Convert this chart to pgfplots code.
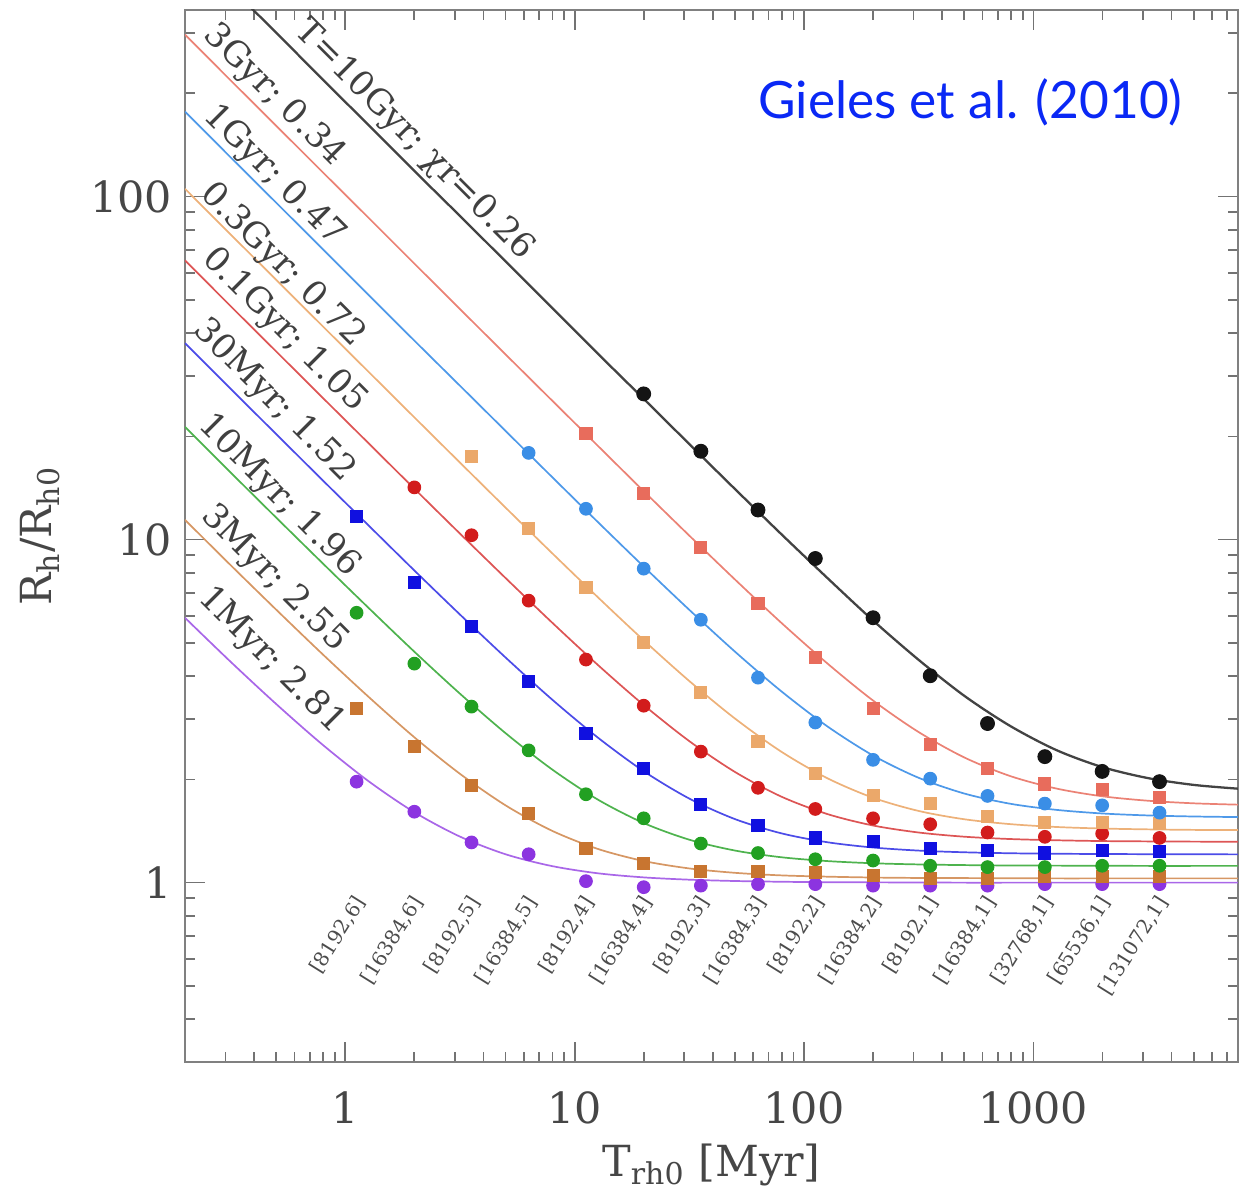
\documentclass[border=0pt]{standalone}
\usepackage{fontspec}
\setmainfont{DejaVu Serif}
\newfontfamily\gillfont{Lato}
\usepackage{pgfplots}
\usepackage{pgfplotstable}
\pgfplotsset{compat=1.18}

\definecolor{cK}{RGB}{20,20,20}
\definecolor{cSal}{RGB}{232,108,92}
\definecolor{cLB}{RGB}{58,142,230}
\definecolor{cTan}{RGB}{235,168,106}
\definecolor{cRed}{RGB}{210,28,28}
\definecolor{cBlu}{RGB}{16,16,224}
\definecolor{cGrn}{RGB}{34,160,34}
\definecolor{cBrn}{RGB}{200,117,48}
\definecolor{cPur}{RGB}{140,52,224}
\definecolor{cTxt}{RGB}{70,70,70}
\definecolor{cGie}{RGB}{10,40,245}

% model curves
\pgfplotstableread{
x c1 c2 c3 c4 c5 c6 c7 c8 c9
0.2 554 296.8 177.0 105.4 65.2 37.40 21.32 11.42 5.917
0.316 407 218.3 130.2 77.6 47.96 27.53 15.70 8.429 4.406
0.501 300 160.6 95.8 57.1 35.30 20.27 11.57 6.238 3.311
0.794 220 118.1 70.5 42.0 25.98 14.93 8.551 4.642 2.528
1.259 162 86.9 51.8 30.91 19.14 11.02 6.336 3.487 1.979
1.995 119 63.9 38.1 22.76 14.10 8.144 4.720 2.657 1.606
3.162 87.8 47.0 28.09 16.77 10.41 6.047 3.555 2.076 1.362
5.012 64.6 34.6 20.70 12.37 7.713 4.524 2.723 1.678 1.209
7.943 47.5 25.5 15.26 9.155 5.744 3.426 2.142 1.418 1.118
12.59 34.9 18.80 11.27 6.803 4.318 2.651 1.748 1.2545 1.065
19.95 25.77 13.87 8.36 5.096 3.300 2.115 1.493 1.1566 1.036
31.62 18.99 10.27 6.24 3.870 2.585 1.758 1.334 1.100 1.020
50.12 14.02 7.64 4.707 3.005 2.100 1.531 1.240 1.068 1.011
79.43 10.39 5.73 3.618 2.411 1.783 1.393 1.186 1.050 1.006
125.9 7.75 4.365 2.860 2.018 1.586 1.312 1.156 1.041 1.003
199.5 5.82 3.40 2.350 1.769 1.468 1.266 1.139 1.035 1.002
316.2 4.46 2.747 2.021 1.618 1.400 1.240 1.130 1.032 1.001
501.2 3.50 2.315 1.818 1.530 1.361 1.226 1.125 1.031 1.0
794.3 2.86 2.044 1.698 1.481 1.340 1.218 1.122 1.030 1.0
1259 2.435 1.881 1.630 1.453 1.329 1.214 1.121 1.029 1.0
1995 2.173 1.786 1.591 1.438 1.322 1.212 1.120 1.029 1.0
3162 2.017 1.733 1.570 1.430 1.319 1.2105 1.119 1.029 1.0
5012 1.927 1.703 1.559 1.425 1.317 1.2095 1.119 1.029 1.0
7800 1.879 1.688 1.553 1.423 1.316 1.209 1.119 1.029 1.0
}\curves

% N-body points
\pgfplotstableread{
x m1 m2 m3 m4 m5 m6 m7 m8 m9
1.12 nan nan nan nan nan 11.7 6.12 3.22 1.97
2.0 nan nan nan nan 14.2 7.49 4.35 2.49 1.61
3.55 nan nan nan 17.5 10.3 5.58 3.26 1.92 1.31
6.3 nan nan 17.9 10.8 6.64 3.85 2.43 1.59 1.21
11.2 nan 20.4 12.3 7.25 4.47 2.72 1.81 1.26 1.01
20 26.6 13.6 8.23 5.01 3.28 2.15 1.54 1.14 0.97
35.5 18.1 9.48 5.84 3.58 2.41 1.69 1.30 1.08 0.98
63 12.2 6.51 3.96 2.58 1.89 1.47 1.22 1.08 0.99
112 8.81 4.53 2.93 2.08 1.64 1.35 1.17 1.07 0.99
200 5.92 3.22 2.28 1.79 1.54 1.32 1.16 1.05 0.98
355 4.01 2.53 2.01 1.70 1.48 1.26 1.12 1.03 0.98
631 2.91 2.15 1.79 1.56 1.40 1.24 1.11 1.03 0.98
1122 2.33 1.94 1.70 1.50 1.36 1.22 1.11 1.04 0.99
1995 2.11 1.87 1.68 1.50 1.39 1.24 1.12 1.04 0.99
3548 1.97 1.77 1.60 1.49 1.35 1.23 1.12 1.04 0.99
}\points

\begin{document}
\begin{tikzpicture}
\begin{axis}[
  name=ax,
  xmode=log, ymode=log,
  scale only axis, width=368.55pt, height=368.2pt,
  xmin=0.2, xmax=7800, ymin=0.3, ymax=350,
  axis line style={black!50, line width=0.8pt},
  tick style={black!55, line width=0.6pt},
  major tick length=7pt, minor tick length=3.5pt,
  tick align=inside,
  xtick={1,10,100,1000}, xticklabels={1,10,100,1000},
  ytick={1,10,100}, yticklabels={1,10,100},
  minor xtick={0.2,0.3,0.4,0.5,0.6,0.7,0.8,0.9,2,3,4,5,6,7,8,9,20,30,40,50,60,70,80,90,200,300,400,500,600,700,800,900,2000,3000,4000,5000,6000,7000},
  minor ytick={0.3,0.4,0.5,0.6,0.7,0.8,0.9,2,3,4,5,6,7,8,9,20,30,40,50,60,70,80,90,200,300},
  ticklabel style={font=\fontsize{15}{15}\selectfont, text=cTxt},
  xticklabel style={yshift=-7pt},
  yticklabel style={xshift=-1pt},
]
% curves
\addplot[cK!80, line width=0.8pt, smooth] table[x=x,y=c1]{\curves};
\addplot[cSal!85, line width=0.6pt, smooth] table[x=x,y=c2]{\curves};
\addplot[cLB!90, line width=0.6pt, smooth] table[x=x,y=c3]{\curves};
\addplot[cTan!90, line width=0.6pt, smooth] table[x=x,y=c4]{\curves};
\addplot[cRed!75, line width=0.6pt, smooth] table[x=x,y=c5]{\curves};
\addplot[cBlu!75, line width=0.6pt, smooth] table[x=x,y=c6]{\curves};
\addplot[cGrn!80, line width=0.6pt, smooth] table[x=x,y=c7]{\curves};
\addplot[cBrn!75, line width=0.6pt, smooth] table[x=x,y=c8]{\curves};
\addplot[cPur!75, line width=0.6pt, smooth] table[x=x,y=c9]{\curves};
% points
\addplot[only marks, mark=*, mark size=2.2pt, cPur] table[x=x,y=m9]{\points};
\addplot[only marks, mark=square*, mark size=2.1pt, cBrn] table[x=x,y=m8]{\points};
\addplot[only marks, mark=*, mark size=2.2pt, cGrn] table[x=x,y=m7]{\points};
\addplot[only marks, mark=square*, mark size=2.1pt, cBlu] table[x=x,y=m6]{\points};
\addplot[only marks, mark=*, mark size=2.2pt, cRed] table[x=x,y=m5]{\points};
\addplot[only marks, mark=square*, mark size=2.1pt, cTan] table[x=x,y=m4]{\points};
\addplot[only marks, mark=*, mark size=2.2pt, cLB] table[x=x,y=m3]{\points};
\addplot[only marks, mark=square*, mark size=2.1pt, cSal] table[x=x,y=m2]{\points};
\addplot[only marks, mark=*, mark size=2.4pt, cK] table[x=x,y=m1]{\points};

% curve labels
\begin{scope}[every node/.style={rotate=-45, font=\fontsize{12}{12}\selectfont, text=black!75, inner sep=0pt}]
\node at (axis cs:2.0,145.6) {T=10Gyr; χr=0.26};
\node at (axis cs:0.49,197) {3Gyr; 0.34};
\node at (axis cs:0.49,115) {1Gyr; 0.47};
\node at (axis cs:0.531,63) {0.3Gyr; 0.72};
\node at (axis cs:0.542,40.7) {0.1Gyr; 1.05};
\node at (axis cs:0.49,25.4) {30Myr; 1.52};
\node at (axis cs:0.515,13.4) {10Myr; 1.96};
\node at (axis cs:0.49,7.70) {3Myr; 2.55};
\node at (axis cs:0.475,4.44) {1Myr; 2.81};
\end{scope}

% run labels
\begin{scope}[every node/.style={rotate=58, anchor=east, font=\fontsize{7}{7}\selectfont, text=black!70, inner sep=0pt}]
\node at (axis cs:1.17,0.9) {[8192,6]};
\node at (axis cs:2.08,0.9) {[16384,6]};
\node at (axis cs:3.69,0.9) {[8192,5]};
\node at (axis cs:6.55,0.9) {[16384,5]};
\node at (axis cs:11.65,0.9) {[8192,4]};
\node at (axis cs:20.8,0.9) {[16384,4]};
\node at (axis cs:36.9,0.9) {[8192,3]};
\node at (axis cs:65.5,0.9) {[16384,3]};
\node at (axis cs:116.5,0.9) {[8192,2]};
\node at (axis cs:208,0.9) {[16384,2]};
\node at (axis cs:369,0.9) {[8192,1]};
\node at (axis cs:656,0.9) {[16384,1]};
\node at (axis cs:1167,0.9) {[32768,1]};
\node at (axis cs:2075,0.9) {[65536,1]};
\node at (axis cs:3690,0.9) {[131072,1]};
\end{scope}

\node[font=\gillfont\fontsize{18}{18}\selectfont, text=cGie] at (rel axis cs:0.746,0.912) {Gieles et al. (2010)};
\end{axis}

\node[rotate=90, font=\fontsize{15}{15}\selectfont, text=cTxt] at ([xshift=-50.75pt]ax.west) {R\textsubscript{h}/R\textsubscript{h0}};
\node[font=\fontsize{15}{15}\selectfont, text=cTxt] at ([yshift=-36pt]ax.south) {T\textsubscript{rh0} [Myr]};

\pgfresetboundingbox
\path ([shift={(-64.75pt,-46.55pt)}]ax.south west) rectangle ([shift={(1.4pt,3.5pt)}]ax.north east);
\end{tikzpicture}
\end{document}
